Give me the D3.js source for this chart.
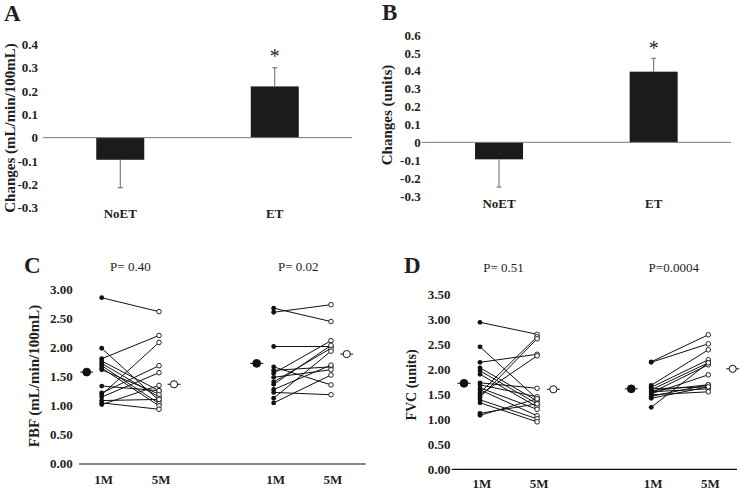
<!DOCTYPE html>
<html><head><meta charset="utf-8">
<script src="https://cdn.jsdelivr.net/npm/d3@7"></script>
<style>body{margin:0;background:#fff}svg{display:block}</style>
</head><body><svg id="c" width="740" height="491"></svg>
<script>
// ---------- DATA ----------
const groups = ["NoET", "ET"];
const times = ["1M", "5M"];

// Panel A: change in FBF (mean, error-bar end)
const fbfChange = [-0.095, 0.22];
const fbfChangeErr = [-0.215, 0.30];
const ticksA = [-0.3, -0.2, -0.1, 0, 0.1, 0.2, 0.3, 0.4];

// Panel B: change in FVC
const fvcChange = [-0.095, 0.395];
const fvcChangeErr = [-0.25, 0.47];
const ticksB = [-0.3, -0.2, -0.1, 0, 0.1, 0.2, 0.3, 0.4, 0.5, 0.6];

// Panel C: FBF individual values
const fbfNoET1M = [2.85, 1.98, 1.80, 1.76, 1.72, 1.68, 1.64, 1.61, 1.33, 1.21, 1.18, 1.14, 1.08, 1.04, 1.01];
const fbfNoET5M = [2.61, 1.08, 2.20, 1.25, 1.14, 1.03, 0.99, 1.19, 1.25, 1.68, 2.08, 1.56, 1.10, 0.93, 1.34];
const fbfET1M = [2.67, 2.60, 2.01, 1.66, 1.60, 1.55, 1.48, 1.40, 1.36, 1.27, 1.22, 1.12, 1.04];
const fbfET5M = [2.44, 2.73, 2.01, 1.35, 1.66, 2.11, 1.61, 1.98, 2.03, 1.69, 1.18, 1.93, 1.52];
const fbfMeans = [[1.57, 1.36], [1.72, 1.88]];
const fbfP = ["P= 0.40", "P= 0.02"];
const ticksC = [0, 0.5, 1, 1.5, 2, 2.5, 3];

// Panel D: FVC individual values
const fvcNoET1M = [2.94, 2.45, 2.14, 2.03, 1.97, 1.90, 1.73, 1.69, 1.63, 1.59, 1.53, 1.49, 1.44, 1.39, 1.33, 1.12, 1.08];
const fvcNoET5M = [2.70, 1.41, 2.30, 1.37, 1.31, 1.25, 1.62, 1.45, 1.20, 1.07, 2.65, 2.27, 2.61, 1.01, 0.95, 1.31, 1.41];
const fvcET1M = [2.15, 2.14, 1.68, 1.64, 1.61, 1.59, 1.57, 1.55, 1.53, 1.51, 1.49, 1.46, 1.42, 1.24];
const fvcET5M = [2.69, 2.51, 2.39, 2.19, 1.65, 2.13, 1.69, 1.61, 2.09, 1.89, 1.55, 1.69, 1.65, 2.13];
const fvcMeans = [[1.72, 1.60], [1.61, 2.01]];
const fvcP = ["P= 0.51", "P=0.0004"];
const ticksD = [0, 0.5, 1, 1.5, 2, 2.5, 3, 3.5];

// ---------- DRAW ----------
const svg = d3.select("#c");
const SERIF = "'Liberation Serif','Times New Roman',serif";
const INK = "#231f20";

function text(x, y, s, opt) {
  const t = svg.append("text").attr("x", x).attr("y", y).text(s)
    .attr("font-family", SERIF).attr("fill", INK)
    .attr("font-size", opt.size).attr("font-weight", opt.bold ? "bold" : "normal")
    .attr("text-anchor", opt.anchor || "start");
  return t;
}
function vtitle(cx, cy, s, size) {
  svg.append("text").attr("transform", `translate(${cx},${cy}) rotate(-90)`)
    .attr("dy", "0.35em").attr("text-anchor", "middle")
    .attr("font-family", SERIF).attr("font-weight", "bold").attr("font-size", size)
    .attr("fill", INK).text(s);
}
function yAxis(scale, ticks, xRight, fmt) {
  const g = svg.append("g").attr("transform", `translate(${xRight},0)`)
    .call(d3.axisLeft(scale).tickValues(ticks).tickSize(0).tickPadding(0).tickFormat(fmt));
  g.select(".domain").remove();
  g.attr("font-family", SERIF).attr("font-size", 13).attr("font-weight", "bold");
  g.selectAll("text").attr("fill", INK);
}

function barPanel(c) {
  const y = d3.scaleLinear().domain(c.domain).range(c.yRange);
  const x = d3.scalePoint().domain(groups).range(c.xRange).padding(0.5);
  yAxis(y, c.ticks, c.labelRight, d => d === 0 ? "0" : d.toFixed(1));
  const bw = 48;
  // bars
  svg.selectAll(null).data(groups).enter().append("rect")
    .attr("x", d => x(d) - bw / 2)
    .attr("y", (d, i) => y(Math.max(0, c.means[i])))
    .attr("width", bw)
    .attr("height", (d, i) => Math.abs(y(c.means[i]) - y(0)))
    .attr("fill", "#1c1a1b");
  // error bars
  groups.forEach((g, i) => {
    svg.append("line").attr("x1", x(g)).attr("x2", x(g))
      .attr("y1", y(c.means[i])).attr("y2", y(c.errs[i]))
      .attr("stroke", "#666").attr("stroke-width", 1);
    svg.append("line").attr("x1", x(g) - 2.5).attr("x2", x(g) + 2.5)
      .attr("y1", y(c.errs[i])).attr("y2", y(c.errs[i]))
      .attr("stroke", "#666").attr("stroke-width", 1);
  });
  // zero line
  svg.append("line").attr("x1", c.xRange[0]).attr("x2", c.xRange[1])
    .attr("y1", y(0)).attr("y2", y(0)).attr("stroke", "#777").attr("stroke-width", 1);
  // category labels
  groups.forEach(g => text(x(g), c.catY, g, {size: 13, bold: true, anchor: "middle"}));
  // star
  text(x("ET"), c.starY, "*", {size: 20, bold: false, anchor: "middle"});
  vtitle(c.titleX, c.titleY, c.title, c.titleSize);
  text(c.letterX, c.letterY, c.letter, {size: 23, bold: true});
}

barPanel({domain: [-0.3, 0.4], yRange: [207.5, 44.5], xRange: [43, 352], ticks: ticksA,
  labelRight: 38, means: fbfChange, errs: fbfChangeErr, catY: 217.5, starY: 63,
  title: "Changes (mL/min/100mL)", titleX: 10, titleY: 128, titleSize: 15,
  letter: "A", letterX: 4, letterY: 21});
barPanel({domain: [-0.3, 0.6], yRange: [196, 35], xRange: [421.7, 731], ticks: ticksB,
  labelRight: 420.7, means: fvcChange, errs: fvcChangeErr, catY: 208, starY: 54.5,
  title: "Changes (units)", titleX: 387, titleY: 115, titleSize: 15,
  letter: "B", letterX: 382, letterY: 20});

function pairPanel(c) {
  const y = d3.scaleLinear().domain(c.domain).range(c.yRange);
  const x = d3.scaleLinear().domain([0, 4]).range(c.xRange); // slots: group*3 + time
  yAxis(y, c.ticks, c.labelRight, d3.format(".2f"));
  svg.append("line").attr("x1", c.axisX[0]).attr("x2", c.axisX[1])
    .attr("y1", c.axisY).attr("y2", c.axisY).attr("stroke", "#111").attr("stroke-width", 1.2);
  c.sets.forEach((s, gi) => {
    const x1 = x(gi * 3), x2 = x(gi * 3 + 1);
    const pairs = s[0].map((v, i) => [v, s[1][i]]);
    svg.selectAll(null).data(pairs).enter().append("line")
      .attr("x1", x1).attr("x2", x2)
      .attr("y1", d => y(d[0])).attr("y2", d => y(d[1]))
      .attr("stroke", "#111").attr("stroke-width", 1);
    svg.selectAll(null).data(s[0]).enter().append("circle")
      .attr("cx", x1).attr("cy", d => y(d)).attr("r", 2.4).attr("fill", "#111");
    svg.selectAll(null).data(s[1]).enter().append("circle")
      .attr("cx", x2).attr("cy", d => y(d)).attr("r", 2.3)
      .attr("fill", "#fff").attr("stroke", "#111").attr("stroke-width", 0.9);
    // means
    const m = c.means[gi];
    const mx1 = x1 + c.meanOff[gi][0], mx2 = x2 + c.meanOff[gi][1];
    [[mx1, m[0], true], [mx2, m[1], false]].forEach(([mx, mv, filled]) => {
      svg.append("line").attr("x1", mx - 6.5).attr("x2", mx + 6.5)
        .attr("y1", y(mv)).attr("y2", y(mv)).attr("stroke", "#111").attr("stroke-width", 1);
      svg.append("circle").attr("cx", mx).attr("cy", y(mv)).attr("r", filled ? 3.9 : 3.6)
        .attr("fill", filled ? "#111" : "#fff").attr("stroke", "#111").attr("stroke-width", 1);
    });
    times.forEach((t, ti) => text(x(gi * 3 + ti) + 2, c.catY, t, {size: 13, bold: true, anchor: "middle"}));
    text((x1 + x2) / 2 + c.pOff[gi], c.pY, c.p[gi], {size: 13, bold: false, anchor: "middle"});
  });
  vtitle(c.titleX, c.titleY, c.title, c.titleSize);
  text(c.letterX, c.letterY, c.letter, {size: 23, bold: true});
}

pairPanel({domain: [0, 3], yRange: [463.3, 289], xRange: [101.7, 331], ticks: ticksC,
  labelRight: 72.7, axisX: [79, 365.7], axisY: 464,
  sets: [[fbfNoET1M, fbfNoET5M], [fbfET1M, fbfET5M]], means: fbfMeans,
  meanOff: [[-15, 15], [-17, 15.7]], p: fbfP, pOff: [0, -4], pY: 271, catY: 484,
  title: "FBF (mL/min/100mL)", titleX: 33.5, titleY: 376, titleSize: 15,
  letter: "C", letterX: 24, letterY: 273});
pairPanel({domain: [0, 3.5], yRange: [469.3, 294.3], xRange: [480, 708.3], ticks: ticksD,
  labelRight: 450.5, axisX: [451.7, 737], axisY: 469.3,
  sets: [[fvcNoET1M, fvcNoET5M], [fvcET1M, fvcET5M]], means: fvcMeans,
  meanOff: [[-16, 16.3], [-20, 24.4]], p: fvcP, pOff: [-5, -6], pY: 271.5, catY: 488,
  title: "FVC  (units)", titleX: 411, titleY: 385, titleSize: 14,
  letter: "D", letterX: 404, letterY: 273});
</script></body></html>
